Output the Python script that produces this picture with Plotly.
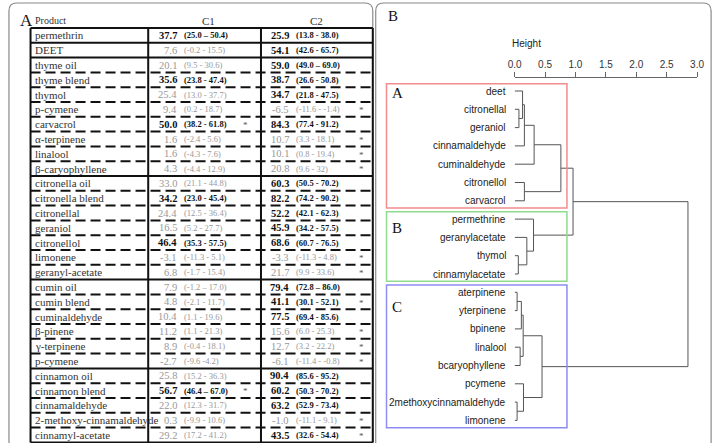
import plotly.graph_objects as go

# ---------------- panel A: repellency table ----------------
products = ["permethrin", "DEET", "thyme oil", "thyme blend", "thymol", "p-cymene", "carvacrol",
            "α-terpinene", "linalool", "β-caryophyllene", "citronella oil", "citronella blend",
            "citronellal", "geraniol", "citronellol", "limonene", "geranyl-acetate", "cumin oil",
            "cumin blend", "cuminaldehyde", "β-pinene", "γ-terpinene", "p-cymene", "cinnamon oil",
            "cinnamon blend", "cinnamaldehyde", "2-methoxy-cinnamaldehyde", "cinnamyl-acetate"]
groups = ["permethrin", "DEET"] + ["thyme"] * 8 + ["citronella"] * 7 + ["cumin"] * 6 + ["cinnamon"] * 5

c1_mean = [37.7, 7.6, 20.1, 35.6, 25.4, 9.4, 50.0, 1.6, 1.6, 4.3, 33.0, 34.2, 24.4, 16.5,
           46.4, -3.1, 6.8, 7.9, 4.8, 10.4, 11.2, 8.9, -2.7, 25.8, 56.7, 22.0, 0.3, 29.2]
c1_ci = ["(25.0 – 50.4)", "(-0.2 - 15.5)", "(9.5 - 30.6)", "(23.8 - 47.4)", "(13.0 - 37.7)",
         "(0.2 - 18.7)", "(38.2 - 61.8)", "(-2.4 - 5.6)", "(-4.3 - 7.6)", "(-4.4 - 12.9)",
         "(21.1 - 44.8)", "(23.0 - 45.4)", "(12.5 - 36.4)", "(5.2 - 27.7)", "(35.3 - 57.5)",
         "(-11.3 - 5.1)", "(-1.7 - 15.4)", "(-1.2 – 17.0)", "(-2.1 - 11.7)", "(1.1 - 19.6)",
         "(1.1 - 21.3)", "(-0.4 - 18.1)", "(-9.6 -4.2)", "(15.2 - 36.3)", "(46.4 – 67.0)",
         "(12.3 - 31.7)", "(-9.9 - 10.6)", "(17.2 - 41.2)"]
c1_sig = [1, 0, 0, 1, 0, 0, 1, 0, 0, 0, 0, 1, 0, 0, 1, 0, 0, 0, 0, 0, 0, 0, 0, 0, 1, 0, 0, 0]
c1_star = [0, 0, 0, 0, 0, 0, 1, 0, 0, 0, 0, 0, 0, 0, 0, 0, 0, 0, 0, 0, 0, 0, 0, 0, 1, 0, 0, 0]

c2_mean = [25.9, 54.1, 59.0, 38.7, 34.7, -6.5, 84.3, 10.7, 10.1, 20.8, 60.3, 82.2, 52.2, 45.9,
           68.6, -3.3, 21.7, 79.4, 41.1, 77.5, 15.6, 12.7, -6.1, 90.4, 60.2, 63.2, -1.0, 43.5]
c2_ci = ["(13.8 - 38.0)", "(42.6 - 65.7)", "(49.0 – 69.0)", "(26.6 - 50.8)", "(21.8 - 47.5)",
         "(-11.6 - -1.4)", "(77.4 - 91.2)", "(3.3 - 18.1)", "(0.8 - 19.4)", "(9.6 - 32)",
         "(50.5 - 70.2)", "(74.2 - 90.2)", "(42.1 - 62.3)", "(34.2 - 57.5)", "(60.7 - 76.5)",
         "(-11.3 - 4.8)", "(9.9 - 33.6)", "(72.8 – 86.0)", "(30.1 - 52.1)", "(69.4 - 85.6)",
         "(6.0 - 25.3)", "(3.2 - 22.2)", "(-11.4 - -0.8)", "(85.6 - 95.2)", "(50.3 - 70.2)",
         "(52.9 - 73.4)", "(-11.1 - 9.1)", "(32.6 - 54.4)"]
c2_sig = [1, 1, 1, 1, 1, 0, 1, 0, 0, 0, 1, 1, 1, 1, 1, 0, 0, 1, 1, 1, 0, 0, 0, 1, 1, 1, 0, 1]
c2_star = [0, 0, 0, 0, 0, 1, 0, 1, 1, 1, 0, 0, 0, 0, 0, 1, 1, 0, 1, 0, 1, 1, 1, 0, 0, 0, 1, 1]

# ---------------- panel B: hierarchical clustering ----------------
leaves = ["deet", "citronellal", "geraniol", "cinnamaldehyde", "cuminaldehyde", "citronellol",
          "carvacrol", "permethrine", "geranylacetate", "thymol", "cinnamylacetate", "aterpinene",
          "yterpinene", "bpinene", "linalool", "bcaryophyllene", "pcymene",
          "2methoxycinnamaldehyde", "limonene"]
# hclust-style merges: negative = leaf (1-based), positive = earlier merge step
merge_a = [-2, -1, 2, 3, -6, 4, -10, -9, -8, 6, -12, 11, -15, 12, -18, -17, 14, 10]
merge_b = [-3, 1, -4, -5, -7, 5, -11, 7, 8, 9, -13, -14, -16, 13, -19, 15, 16, 17]
merge_h = [0.07, 0.13, 0.16, 0.32, 0.16, 0.76, 0.06, 0.20, 0.31, 0.96,
           0.04, 0.11, 0.09, 0.14, 0.04, 0.145, 0.45, 2.85]
cluster_names = ["A", "B", "C"]
cluster_leaves = [(0, 6), (7, 10), (11, 18)]
cluster_colors = ["#f28c8c", "#8fdc8f", "#8c8cf2"]

W, H = 723, 443
SERIF = "Liberation Serif, Times New Roman, serif"
SANS = "Liberation Sans, Arial, sans-serif"

# table geometry (pixels across, rows down)
col_x = [24, 144, 259, 373]
row_top, row_h = 28, 14.8
ty0 = -0.5 - row_top / row_h
ty1 = ty0 + H / row_h

# dendrogram geometry
h0_px, px_per_h = 517.7, 62.0
leaf0_px, leaf_dy = 91.0, 18.3
dy0 = -leaf0_px / leaf_dy
dy1 = dy0 + H / leaf_dy

fig = go.Figure()
fig.add_trace(go.Scatter(x=[0], y=[0], mode="markers", marker=dict(opacity=0),
                         hoverinfo="skip", xaxis="x", yaxis="y"))

# dendrogram segments
xs, ys = [], []
pos = {}
for k, (a, b, h) in enumerate(zip(merge_a, merge_b, merge_h), start=1):
    pa = (0.0, -a - 1) if a < 0 else pos[a]
    pb = (0.0, -b - 1) if b < 0 else pos[b]
    xs += [pa[0], h, h, pb[0], None]
    ys += [pa[1], pa[1], pb[1], pb[1], None]
    pos[k] = (h, (pa[1] + pb[1]) / 2)
fig.add_trace(go.Scatter(x=xs, y=ys, mode="lines", line=dict(color="#555555", width=1),
                         hoverinfo="skip", xaxis="x2", yaxis="y2"))

ann = []
shapes = []

def px(v):
    return v / W

def py(v):
    return 1 - v / H

# panel frames (rounded)
for x0, x1 in [(2, 373), (376, 718)]:
    rx, ry = 8 / W, 8 / H
    a0, a1, yt, yb = px(x0), px(x1), py(3), -0.05
    path = (f"M {a0},{yb} L {a0},{yt - ry} Q {a0},{yt} {a0 + rx},{yt} "
            f"L {a1 - rx},{yt} Q {a1},{yt} {a1},{yt - ry} L {a1},{yb}")
    shapes.append(dict(type="path", path=path, xref="paper", yref="paper",
                       line=dict(color="#8a8a8a", width=1.2)))

ann.append(dict(x=px(11), y=py(21), xref="paper", yref="paper", text="A", showarrow=False,
                xanchor="left", yanchor="middle", font=dict(family=SERIF, size=17, color="#111")))
ann.append(dict(x=px(386), y=py(16), xref="paper", yref="paper", text="B", showarrow=False,
                xanchor="left", yanchor="middle", font=dict(family=SERIF, size=15, color="#111")))

# table header
ann.append(dict(x=26, y=-1, xref="x", yref="y", text="Product", showarrow=False, xanchor="left",
                font=dict(family=SERIF, size=10, color="#333")))
for name, cx in [("C1", 205), ("C2", 316)]:
    ann.append(dict(x=cx, y=-1, xref="x", yref="y", text=name, showarrow=False,
                    font=dict(family=SERIF, size=11, color="#333")))

# table lines
shapes.append(dict(type="line", xref="x", yref="y", x0=col_x[0], x1=col_x[-1], y0=-0.5, y1=-0.5,
                   line=dict(color="#111", width=2)))
n = len(products)
for i in range(n):
    solid = i == n - 1 or groups[i] != groups[i + 1]
    shapes.append(dict(type="line", xref="x", yref="y", x0=col_x[0], x1=col_x[-1],
                       y0=i + 0.5, y1=i + 0.5,
                       line=dict(color="#111", width=2, dash="solid" if solid else "10px,5px")))
for cx in col_x:
    shapes.append(dict(type="line", xref="x", yref="y", x0=cx, x1=cx, y0=-0.5, y1=n - 0.5,
                       line=dict(color="#111", width=2)))

# table cells
for i, prod in enumerate(products):
    ann.append(dict(x=col_x[0] + 2, y=i, xref="x", yref="y", text=prod, showarrow=False,
                    xanchor="left", font=dict(family=SERIF, size=11, color="#333")))
    for mean, ci, sig, star, xr, xs_ in [
        (c1_mean[i], c1_ci[i], c1_sig[i], c1_star[i], 175, 243),
        (c2_mean[i], c2_ci[i], c2_sig[i], c2_star[i], 290, 362),
    ]:
        col = "#111" if sig else "#999999"
        v = f"{mean:.1f}"
        c = ci
        if sig:
            v, c = f"<b>{v}</b>", f"<b>{c}</b>"
        ann.append(dict(x=xr, y=i, xref="x", yref="y", text=v, showarrow=False, xanchor="right",
                        font=dict(family=SERIF, size=10.5, color=col)))
        ann.append(dict(x=xr + 3, y=i, xref="x", yref="y", text=c, showarrow=False, xanchor="left",
                        font=dict(family=SERIF, size=8.5, color=col)))
        if star:
            ann.append(dict(x=xs_, y=i + 0.05, xref="x", yref="y", text="*", showarrow=False,
                            font=dict(family=SERIF, size=9, color="#555")))

# dendrogram leaf labels
for i, lab in enumerate(leaves):
    ann.append(dict(x=0, y=i, xref="x2", yref="y2", text=lab, showarrow=False, xanchor="right",
                    xshift=-7, font=dict(family=SANS, size=10, color="#222")))

# cluster boxes
label_dy = [0.5, 0.9, 1.2]
for name, (first, last), colr, ldy in zip(cluster_names, cluster_leaves, cluster_colors, label_dy):
    shapes.append(dict(type="rect", xref="paper", yref="y2", x0=px(387), x1=px(571),
                       y0=first - 0.4, y1=last + 0.4, line=dict(color=colr, width=1.5)))
    ann.append(dict(x=px(391), y=first - 0.4 + ldy, xref="paper", yref="y2", text=name,
                    showarrow=False, xanchor="left",
                    font=dict(family=SERIF, size=15, color="#111")))

ann.append(dict(x=px(547), y=py(36), xref="paper", yref="paper", text="Height", showarrow=False,
                font=dict(family=SANS, size=10, color="#222")))

hticks = [0.0, 0.5, 1.0, 1.5, 2.0, 2.5, 3.0]
fig.update_layout(
    width=W, height=H,
    margin=dict(l=0, r=0, t=0, b=0),
    paper_bgcolor="white", plot_bgcolor="rgba(0,0,0,0)",
    showlegend=False,
    xaxis=dict(domain=[0, 1], range=[0, W], visible=False, fixedrange=True),
    yaxis=dict(domain=[0, 1], range=[ty1, ty0], visible=False, fixedrange=True),
    xaxis2=dict(domain=[px(h0_px), px(h0_px + 3 * px_per_h)], range=[0, 3], anchor="free",
                position=py(77), side="top", showline=True, linecolor="#666", linewidth=1,
                ticks="outside", ticklen=5, tickcolor="#666", tickvals=hticks,
                ticktext=[f"{t:.1f}" for t in hticks], showgrid=False, zeroline=False,
                tickfont=dict(family=SANS, size=10, color="#333"), fixedrange=True),
    yaxis2=dict(domain=[0, 1], range=[dy1, dy0], anchor="x2", visible=False, fixedrange=True),
    shapes=shapes,
    annotations=ann,
)

# the page body has a default 8px margin; drop it so the figure sits at the window origin
fig.write_html("out.html", config={"displayModeBar": False},
               post_script="document.body.style.margin='0';")
